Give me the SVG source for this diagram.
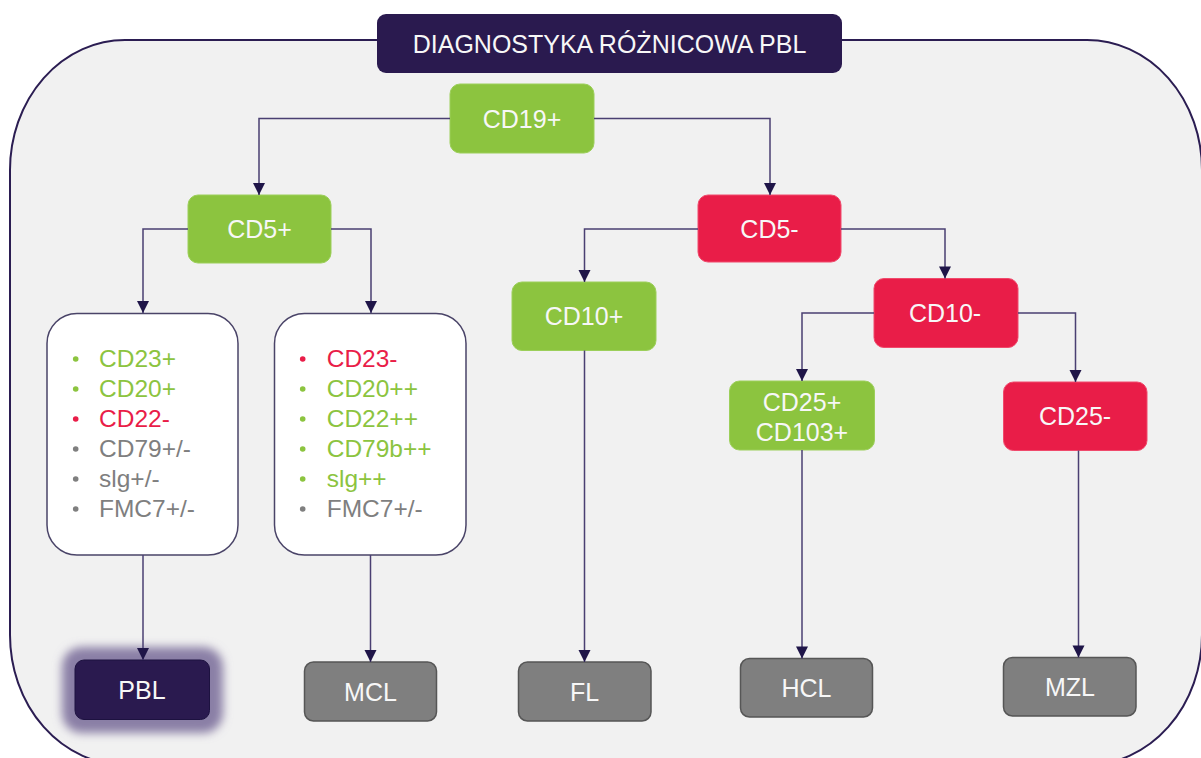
<svg xmlns="http://www.w3.org/2000/svg" width="1201" height="758" viewBox="0 0 1201 758">
  <style>
    .lbl { font-family: "Liberation Sans", Arial, sans-serif; font-size: 25px; fill: #f7f7f7; text-anchor: middle; }
    .item { font-family: "Liberation Sans", Arial, sans-serif; font-size: 24.5px; }
    .green { fill: #8cc43f; }
    .red { fill: #e91d48; }
    .grey { fill: #7f7f7f; }
    .gbox { fill: #8cc43f; stroke: #9ccf5a; stroke-width: 1; }
    .rbox { fill: #e91d48; stroke: #f04a6c; stroke-width: 1; }
    .dbox { fill: #7f7f7f; stroke: #565656; stroke-width: 1.5; }
    .lst { fill: #ffffff; stroke: #4a4468; stroke-width: 1.5; }
    .conn { fill: none; stroke: #4a3f72; stroke-width: 1.5; marker-end: url(#arrow); }
  </style>
  <defs>
    <marker id="arrow" markerUnits="userSpaceOnUse" markerWidth="13" markerHeight="13" viewBox="0 0 13 13" refX="12.5" refY="6.5" orient="auto">
      <path d="M0.5,0.5 L12.5,6.5 L0.5,12.5 Z" fill="#1f1548"/>
    </marker>
    <filter id="glow" x="-50%" y="-80%" width="200%" height="260%">
      <feGaussianBlur stdDeviation="5"/>
    </filter>
  </defs>

  <!-- background panel -->
  <rect x="0" y="0" width="1201" height="758" fill="#ffffff"/>
  <rect x="10" y="40" width="1192" height="725" rx="115" ry="130" fill="#f1f1f1" stroke="#2b1d52" stroke-width="2"/>

  <!-- title -->
  <g id="title">
    <rect x="377" y="14" width="465" height="59" rx="9" fill="#2a1a4f"/>
    <text class="lbl" x="609.5" y="52.5">DIAGNOSTYKA RÓŻNICOWA PBL</text>
  </g>

  <!-- decision nodes -->
  <g id="cd19p">
    <rect class="gbox" x="450" y="84" width="144" height="69" rx="10"/>
    <text class="lbl" x="522" y="127.5">CD19+</text>
  </g>
  <g id="cd5p">
    <rect class="gbox" x="188" y="195" width="143" height="68" rx="10"/>
    <text class="lbl" x="259.5" y="238">CD5+</text>
  </g>
  <g id="cd5m">
    <rect class="rbox" x="698" y="195" width="143" height="67" rx="10"/>
    <text class="lbl" x="769.5" y="238">CD5-</text>
  </g>
  <g id="cd10p">
    <rect class="gbox" x="512" y="282" width="144" height="68.5" rx="10"/>
    <text class="lbl" x="584" y="325">CD10+</text>
  </g>
  <g id="cd10m">
    <rect class="rbox" x="874" y="278.5" width="144" height="69" rx="10"/>
    <text class="lbl" x="945" y="321.5">CD10-</text>
  </g>
  <g id="cd25p">
    <rect class="gbox" x="729.5" y="381" width="145" height="69" rx="10"/>
    <text class="lbl" x="802" y="410.5">CD25+</text>
    <text class="lbl" x="802" y="440.5">CD103+</text>
  </g>
  <g id="cd25m">
    <rect class="rbox" x="1003.5" y="382" width="143.5" height="68.5" rx="10"/>
    <text class="lbl" x="1075" y="425">CD25-</text>
  </g>

  <!-- marker lists -->
  <g id="list-pbl">
    <rect class="lst" x="47" y="313.5" width="191" height="241.5" rx="30"/>
    <circle class="green" cx="75.7" cy="359" r="2.8"/>
    <text class="item green" x="99" y="367">CD23+</text>
    <circle class="green" cx="75.7" cy="389" r="2.8"/>
    <text class="item green" x="99" y="397">CD20+</text>
    <circle class="red" cx="75.7" cy="419" r="2.8"/>
    <text class="item red" x="99" y="427">CD22-</text>
    <circle class="grey" cx="75.7" cy="449" r="2.8"/>
    <text class="item grey" x="99" y="457">CD79+/-</text>
    <circle class="grey" cx="75.7" cy="479" r="2.8"/>
    <text class="item grey" x="99" y="487">slg+/-</text>
    <circle class="grey" cx="75.7" cy="509" r="2.8"/>
    <text class="item grey" x="99" y="517">FMC7+/-</text>
  </g>
  <g id="list-mcl">
    <rect class="lst" x="274.5" y="313.5" width="191.5" height="241.5" rx="30"/>
    <circle class="red" cx="302.7" cy="359" r="2.8"/>
    <text class="item red" x="326.7" y="367">CD23-</text>
    <circle class="green" cx="302.7" cy="389" r="2.8"/>
    <text class="item green" x="326.7" y="397">CD20++</text>
    <circle class="green" cx="302.7" cy="419" r="2.8"/>
    <text class="item green" x="326.7" y="427">CD22++</text>
    <circle class="green" cx="302.7" cy="449" r="2.8"/>
    <text class="item green" x="326.7" y="457">CD79b++</text>
    <circle class="green" cx="302.7" cy="479" r="2.8"/>
    <text class="item green" x="326.7" y="487">slg++</text>
    <circle class="grey" cx="302.7" cy="509" r="2.8"/>
    <text class="item grey" x="326.7" y="517">FMC7+/-</text>
  </g>

  <!-- diagnoses -->
  <g id="pbl">
    <rect x="62" y="647" width="161" height="86" rx="20" fill="#8a7fa6" filter="url(#glow)"/>
    <rect x="75" y="660" width="134.5" height="59.5" rx="9" fill="#2a1a4f" stroke="#1d1240" stroke-width="1"/>
    <text class="lbl" x="142" y="698.5">PBL</text>
  </g>
  <g id="mcl">
    <rect class="dbox" x="304.5" y="662" width="132" height="59" rx="9"/>
    <text class="lbl" x="370.5" y="700.5">MCL</text>
  </g>
  <g id="fl">
    <rect class="dbox" x="518.5" y="662" width="132.5" height="59" rx="9"/>
    <text class="lbl" x="584.5" y="700.5">FL</text>
  </g>
  <g id="hcl">
    <rect class="dbox" x="740.5" y="658.5" width="132" height="58.5" rx="9"/>
    <text class="lbl" x="806.5" y="697">HCL</text>
  </g>
  <g id="mzl">
    <rect class="dbox" x="1003.5" y="657.5" width="132.5" height="58.5" rx="9"/>
    <text class="lbl" x="1070" y="696">MZL</text>
  </g>

  <!-- connectors (drawn last so arrowheads sit above the PBL halo) -->
  <g id="connectors">
    <polyline class="conn" points="450,118.5 259,118.5 259,195"/>
    <polyline class="conn" points="594,118.5 770,118.5 770,195"/>
    <polyline class="conn" points="188,229 143,229 143,313"/>
    <polyline class="conn" points="331,229 371,229 371,313"/>
    <polyline class="conn" points="698,229 584.5,229 584.5,282"/>
    <polyline class="conn" points="841,229 945,229 945,278.5"/>
    <polyline class="conn" points="874,313 802,313 802,381"/>
    <polyline class="conn" points="1018,313 1075.5,313 1075.5,382"/>
    <line class="conn" x1="143" y1="555" x2="143" y2="660"/>
    <line class="conn" x1="370.5" y1="555" x2="370.5" y2="662"/>
    <line class="conn" x1="584.5" y1="350.5" x2="584.5" y2="662"/>
    <line class="conn" x1="802" y1="450" x2="802" y2="658.5"/>
    <line class="conn" x1="1078.5" y1="450.5" x2="1078.5" y2="657.5"/>
  </g>
</svg>
